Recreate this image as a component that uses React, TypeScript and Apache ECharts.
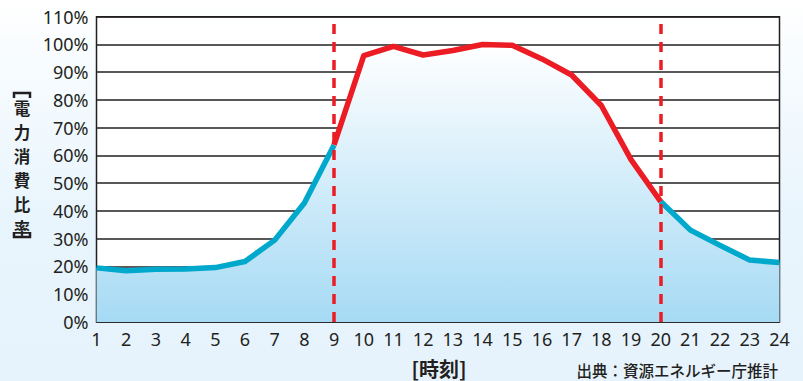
import React, { useEffect, useRef } from "react";
import * as echarts from "echarts";

const hours = [1, 2, 3, 4, 5, 6, 7, 8, 9, 10, 11, 12, 13, 14, 15, 16, 17, 18, 19, 20, 21, 22, 23, 24];
const ratio = [19.5, 18.5, 19.0, 19.1, 19.6, 21.8, 29.5, 42.9, 63.8, 96.0, 99.3, 96.2, 97.8, 100.0, 99.7, 94.8, 89.0, 78.0, 58.5, 43.4, 33.1, 27.6, 22.3, 21.4];
const peakStart = 9;
const peakEnd = 20;
const yTicks = [0, 10, 20, 30, 40, 50, 60, 70, 80, 90, 100, 110];
const yAxisTitle = ["電", "力", "消", "費", "比", "率"];
const xAxisTitle = "[時刻]";
const sourceText = "出典：資源エネルギー庁推計";

export default function App() {
  const ref = useRef<HTMLDivElement>(null);
  useEffect(() => {
    if (!ref.current) return;
    const chart = echarts.init(ref.current, null, { renderer: "svg" });
    const all = hours.map((h, i) => [h, ratio[i]]);
    const outside = hours.map((h, i) => [h, h <= peakStart || h >= peakEnd ? ratio[i] : null]);
    const inside = hours.map((h, i) => [h, h >= peakStart && h <= peakEnd ? ratio[i] : null]);
    const font = "'Noto Sans', 'Noto Sans CJK JP', sans-serif";
    const cjk = "'Noto Sans CJK JP', 'Noto Sans', sans-serif";
    chart.setOption({
      animation: false,
      grid: {
        left: 96.5,
        right: 23.5,
        top: 16.7,
        bottom: 59,
        show: true,
        backgroundColor: "#ffffff",
        borderColor: "#231f20",
        borderWidth: 1.5,
      },
      xAxis: {
        type: "value",
        min: 1,
        max: 24,
        interval: 1,
        axisLine: { show: false },
        axisTick: { show: false },
        splitLine: { show: false },
        axisLabel: { fontSize: 18, color: "#231f20", fontFamily: font, margin: 8 },
      },
      yAxis: {
        type: "value",
        min: yTicks[0],
        max: yTicks[yTicks.length - 1],
        interval: 10,
        axisLine: { show: false },
        axisTick: { show: false },
        splitLine: { show: true, lineStyle: { color: "#231f20", width: 1.5 } },
        axisLabel: { fontSize: 18, color: "#231f20", fontFamily: font, margin: 8, formatter: "{value}%" },
      },
      series: [
        {
          type: "line",
          data: all,
          symbol: "none",
          lineStyle: { width: 0 },
          areaStyle: {
            opacity: 1,
            color: new echarts.graphic.LinearGradient(0, 0, 0, 1, [
              { offset: 0, color: "#ffffff" },
              { offset: 1, color: "#a6daf4" },
            ]),
          },
          z: 2,
        },
        {
          type: "line",
          data: outside,
          symbol: "none",
          connectNulls: false,
          lineStyle: { width: 5.5, color: "#00a8cb", join: "round" },
          z: 3,
        },
        {
          type: "line",
          data: inside,
          symbol: "none",
          connectNulls: false,
          lineStyle: { width: 5.5, color: "#ec1c24", join: "round" },
          z: 4,
          markLine: {
            silent: true,
            symbol: "none",
            label: { show: false },
            lineStyle: { color: "#ec1c24", width: 3.5, type: [10, 8] },
            data: [{ xAxis: peakStart }, { xAxis: peakEnd }],
          },
        },
      ],
      graphic: [
        {
          type: "polyline",
          shape: { points: [[14, 98], [14, 93], [30, 93], [30, 98]] },
          style: { stroke: "#231f20", lineWidth: 2.5, fill: "none" },
        },
        ...yAxisTitle.map((c, i) => ({
          type: "text",
          x: 22,
          y: 108 + i * 24,
          style: {
            text: c,
            fontSize: 16.5,
            fontWeight: "bold",
            fontFamily: cjk,
            fill: "#231f20",
            align: "center",
            verticalAlign: "middle",
          },
        })),
        {
          type: "polyline",
          shape: { points: [[14, 232], [14, 237], [30, 237], [30, 232]] },
          style: { stroke: "#231f20", lineWidth: 2.5, fill: "none" },
        },
        {
          type: "text",
          x: 439,
          y: 368,
          style: {
            text: xAxisTitle,
            fontSize: 20,
            lineHeight: 22,
            fontWeight: "bold",
            fontFamily: cjk,
            fill: "#231f20",
            align: "center",
            verticalAlign: "middle",
          },
        },
        {
          type: "text",
          x: 778,
          y: 370,
          style: {
            text: sourceText,
            fontSize: 15.5,
            lineHeight: 17,
            fontWeight: 500,
            fontFamily: cjk,
            fill: "#231f20",
            align: "right",
            verticalAlign: "middle",
          },
        },
      ],
    });
    return () => chart.dispose();
  }, []);
  return (
    <div
      style={{
        position: "fixed",
        left: 0,
        top: 0,
        width: 803,
        height: 381,
        background: "linear-gradient(180deg, #ffffff 0%, #f8fcfe 15%, #e9f5fd 55%, #e6f3fc 100%)",
      }}
    >
      <div ref={ref} style={{ width: 803, height: 381 }} />
    </div>
  );
}
